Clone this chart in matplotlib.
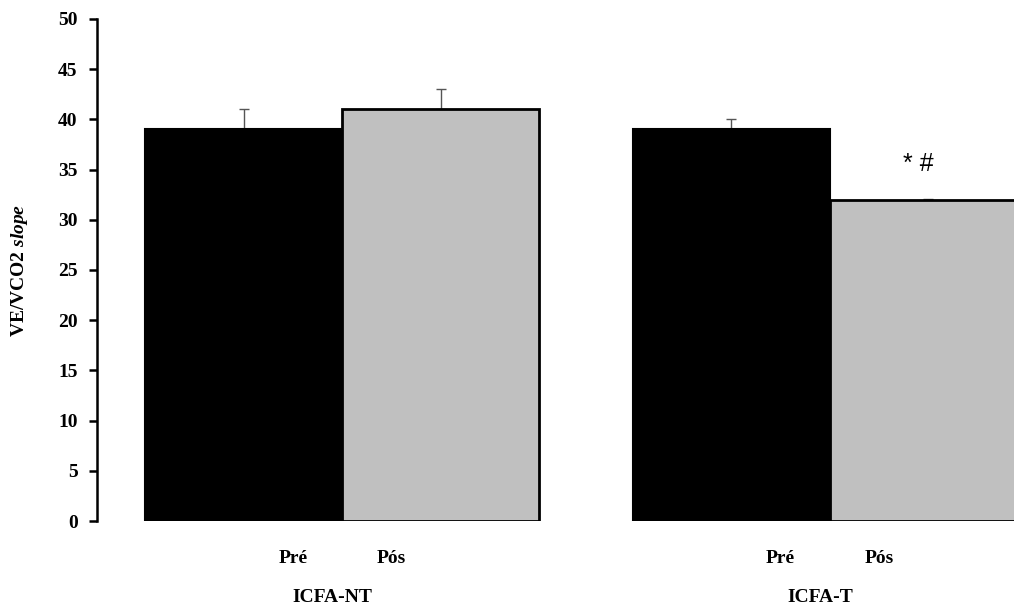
import matplotlib
matplotlib.use("Agg")
import matplotlib.pyplot as plt
import numpy as np

groups = ["ICFA-NT", "ICFA-T"]
phases = ["Pré", "Pós"]
pre_values = [39, 39]
pos_values = [41, 32]
pre_err = [2, 1]
pos_err = [2, 0.1]
annotation = "* #"

plt.rcParams['mathtext.fontset'] = 'custom'
plt.rcParams['mathtext.it'] = 'Liberation Serif:italic:bold'
plt.rcParams['mathtext.rm'] = 'Liberation Serif:bold'

FS = 14

fig = plt.figure(figsize=(10.14, 6.07), dpi=100)
ax = fig.add_axes([97/1014, 1-521/607, 1-97/1014, (521-19)/607])

centers = np.array([1.246, 3.72])
w = 1.0
ax.bar(centers - 0.5, pre_values, width=w, color='black', edgecolor='black', linewidth=1.5, zorder=2)
ax.bar(centers + 0.5, pos_values, width=w, color='#c0c0c0', edgecolor='black', linewidth=2, zorder=2)
ax.errorbar(centers - 0.5, pre_values, yerr=[np.zeros(2), pre_err], fmt='none',
            ecolor='#555555', elinewidth=1, capsize=3.5, capthick=1, zorder=1)
ax.errorbar(centers + 0.5, pos_values, yerr=[np.zeros(2), pos_err], fmt='none',
            ecolor='#555555', elinewidth=1, capsize=3.5, capthick=1, zorder=1)

ax.set_xlim(0, (1014-97)/197)
ax.set_ylim(0, 50)
ax.set_yticks(np.arange(0, 51, 5))
for s in ['top', 'right', 'bottom']:
    ax.spines[s].set_visible(False)
ax.spines['left'].set_linewidth(1.8)
ax.tick_params(axis='y', direction='out', length=6, width=1.8, pad=8)
for lab in ax.get_yticklabels():
    lab.set_fontfamily('Liberation Serif')
    lab.set_fontweight('bold')
    lab.set_fontsize(FS)

tickpos = []
ticklabs = []
for c in centers:
    tickpos += [c - 0.25, c + 0.25]
    ticklabs += phases
ax.set_xticks(tickpos)
ax.set_xticklabels(ticklabs, fontfamily='Liberation Serif', fontweight='bold', fontsize=FS)
ax.tick_params(axis='x', length=0, pad=21)

for c, g in zip(centers, groups):
    ax.text(c - 0.05, -0.152, g, transform=ax.get_xaxis_transform(), ha='center', va='center',
            fontfamily='Liberation Serif', fontweight='bold', fontsize=FS)

ax.text(centers[1] + 0.45, pos_values[1] + 3.6, annotation, ha='center', va='center',
        fontfamily='Liberation Sans', fontsize=18)

ax.set_ylabel('VE/VCO2 $\\mathit{slope}$', fontfamily='Liberation Serif', fontweight='bold',
              fontsize=FS, labelpad=20)

fig.savefig('out.png', dpi=100)
